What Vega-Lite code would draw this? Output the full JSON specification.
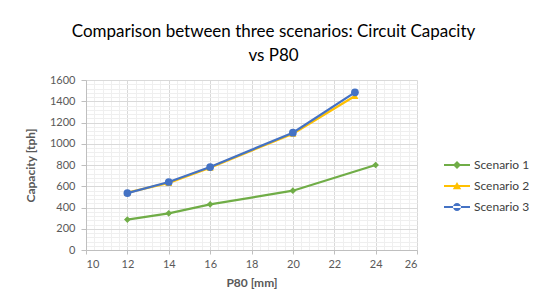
{
  "$schema": "https://vega.github.io/schema/vega-lite/v6.json",
  "width": 331,
  "height": 170,
  "autosize": "none",
  "padding": {"left": 86, "top": 80, "right": 116, "bottom": 52},
  "background": "white",
  "config": {
    "font": "Lato",
    "view": {"stroke": null},
    "axis": {"labelColor": "#595959", "labelFontSize": 11, "titleColor": "#595959", "titleFontSize": 12, "titleFontWeight": "bold", "domainColor": "#bfbfbf", "tickColor": "#bfbfbf", "gridColor": "#d9d9d9", "labelFont": "Lato", "titleFont": "Lato", "format": "d"}
  },
  "title": {
    "text": ["Comparison between three scenarios: Circuit Capacity", "vs P80"],
    "fontSize": 17,
    "fontWeight": "normal",
    "font": "Lato",
    "color": "#000000",
    "lineHeight": 24,
    "offset": 9,
    "dx": 22
  },
  "data": {
    "values": [
      {"s": "Scenario 1", "p80": 12, "cap": 286},
      {"s": "Scenario 1", "p80": 14, "cap": 345},
      {"s": "Scenario 1", "p80": 16, "cap": 430},
      {"s": "Scenario 1", "p80": 20, "cap": 558},
      {"s": "Scenario 1", "p80": 24, "cap": 800},
      {"s": "Scenario 2", "p80": 12, "cap": 540},
      {"s": "Scenario 2", "p80": 14, "cap": 632},
      {"s": "Scenario 2", "p80": 16, "cap": 775},
      {"s": "Scenario 2", "p80": 20, "cap": 1095},
      {"s": "Scenario 2", "p80": 23, "cap": 1450},
      {"s": "Scenario 3", "p80": 12, "cap": 536},
      {"s": "Scenario 3", "p80": 14, "cap": 640},
      {"s": "Scenario 3", "p80": 16, "cap": 781},
      {"s": "Scenario 3", "p80": 20, "cap": 1104},
      {"s": "Scenario 3", "p80": 23, "cap": 1484}
    ]
  },
  "layer": [
    {
      "mark": {"type": "rule", "opacity": 0},
      "encoding": {
        "x": {"field": "p80", "type": "quantitative", "scale": {"domain": [10, 26], "nice": false},
          "axis": {"orient": "bottom", "values": [10.4,10.8,11.2,11.6,12.4,12.8,13.2,13.6,14.4,14.8,15.2,15.6,16.4,16.8,17.2,17.6,18.4,18.8,19.2,19.6,20.4,20.8,21.2,21.6,22.4,22.8,23.2,23.6,24.4,24.8,25.2,25.6], "labels": false, "ticks": false, "domain": false, "title": null, "grid": true, "gridColor": "#efefef"}},
        "y": {"field": "cap", "type": "quantitative", "scale": {"domain": [0, 1600], "nice": false},
          "axis": {"orient": "left", "values": [40,80,120,160,240,280,320,360,440,480,520,560,640,680,720,760,840,880,920,960,1040,1080,1120,1160,1240,1280,1320,1360,1440,1480,1520,1560], "labels": false, "ticks": false, "domain": false, "title": null, "grid": true, "gridColor": "#efefef"}}
      }
    },
    {
      "mark": {"type": "line", "strokeWidth": 2.25},
      "encoding": {
        "x": {"field": "p80", "type": "quantitative", "axis": {"orient": "bottom", "values": [10,12,14,16,18,20,22,24,26], "title": "P80 [mm]", "titlePadding": 8, "tickSize": 4, "labelPadding": 4, "grid": true}},
        "y": {"field": "cap", "type": "quantitative", "axis": {"orient": "left", "values": [0,200,400,600,800,1000,1200,1400,1600], "title": "Capacity [tph]", "titlePadding": 12, "tickSize": 5, "labelPadding": 6, "grid": true}},
        "color": {"field": "s", "type": "nominal", "scale": {"domain": ["Scenario 1", "Scenario 2", "Scenario 3"], "range": ["#70ad47", "#ffc000", "#4472c4"]},
          "legend": {"title": null, "orient": "none", "legendX": 361, "legendY": 75, "labelFontSize": 12, "labelColor": "#404040", "labelFont": "Lato", "rowPadding": 5, "symbolSize": 400, "labelOffset": 7,
            "symbolType": "M-1.3,-0.1H1.3V0.1H-1.3Z",
            "encode": {"symbols": {"update": {
              "shape": {"signal": "datum.value === 'Scenario 1' ? 'M-1.3,-0.1H1.3V0.1H-1.3Z M-0.4,0L0,-0.4L0.4,0L0,0.4Z' : datum.value === 'Scenario 2' ? 'M-1.3,-0.1H1.3V0.1H-1.3Z M-0.42,0.32L0,-0.4L0.42,0.32Z' : 'M-1.3,-0.1H1.3V0.1H-1.3Z M-0.4,0A0.4,0.4 0 1,0 0.4,0A0.4,0.4 0 1,0 -0.4,0Z'"},
              "fill": {"signal": "datum.value === 'Scenario 1' ? '#70ad47' : datum.value === 'Scenario 2' ? '#ffc000' : '#4472c4'"},
              "strokeWidth": {"value": 0},
              "opacity": {"value": 1}
            }}}}
        }
      }
    },
    {
      "transform": [{"filter": "datum.s === 'Scenario 1'"}],
      "mark": {"type": "point", "filled": true, "opacity": 1, "shape": "diamond", "size": 45, "color": "#70ad47"},
      "encoding": {
        "x": {"field": "p80", "type": "quantitative", "axis": null},
        "y": {"field": "cap", "type": "quantitative", "axis": null}
      }
    },
    {
      "transform": [{"filter": "datum.s === 'Scenario 2'"}],
      "mark": {"type": "point", "filled": true, "opacity": 1, "shape": "triangle-up", "size": 50, "color": "#ffc000"},
      "encoding": {
        "x": {"field": "p80", "type": "quantitative", "axis": null},
        "y": {"field": "cap", "type": "quantitative", "axis": null}
      }
    },
    {
      "transform": [{"filter": "datum.s === 'Scenario 3'"}],
      "mark": {"type": "point", "filled": true, "opacity": 1, "shape": "circle", "size": 60, "color": "#4472c4"},
      "encoding": {
        "x": {"field": "p80", "type": "quantitative", "axis": null},
        "y": {"field": "cap", "type": "quantitative", "axis": null}
      }
    }
  ],
  "resolve": {"axis": {"x": "independent", "y": "independent"}}
}
